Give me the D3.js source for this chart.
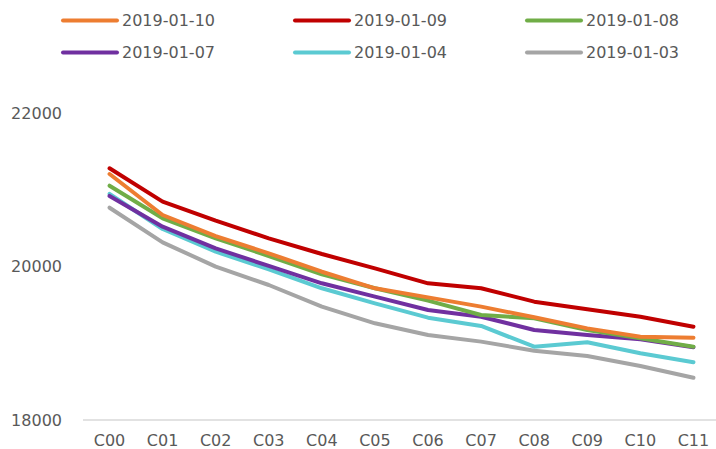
<!DOCTYPE html>
<html>
<head>
<meta charset="utf-8">
<script src="https://cdn.jsdelivr.net/npm/d3@7"></script>
<style>
  body { margin: 0; background: #fff; }
  text { font-family: 'DejaVu Sans', sans-serif; fill: #595959; }
</style>
</head>
<body>
<div id="chart"></div>
<script>
const categories = ['C00', 'C01', 'C02', 'C03', 'C04', 'C05', 'C06', 'C07', 'C08', 'C09', 'C10', 'C11'];
const seriesNames = ['2019-01-10', '2019-01-09', '2019-01-08', '2019-01-07', '2019-01-04', '2019-01-03'];
const s0110 = [21205, 20671, 20397, 20172, 19932, 19716, 19598, 19477, 19338, 19194, 19086, 19073];
const s0109 = [21280, 20845, 20597, 20367, 20163, 19976, 19781, 19716, 19542, 19442, 19346, 19216];
const s0108 = [21053, 20628, 20367, 20137, 19898, 19716, 19555, 19368, 19325, 19173, 19064, 18955];
const s0107 = [20919, 20519, 20237, 20007, 19781, 19607, 19433, 19346, 19173, 19108, 19051, 18947];
const s0104 = [20945, 20489, 20193, 19963, 19716, 19520, 19333, 19225, 18955, 19012, 18869, 18752];
const s0103 = [20766, 20315, 19998, 19759, 19477, 19260, 19108, 19021, 18903, 18834, 18704, 18551];
const yTicks = [18000, 20000, 22000];

const colors = ['#ED7D31', '#C00000', '#70AD47', '#7030A0', '#5BCAD2', '#A5A5A5'];
const series = [s0110, s0109, s0108, s0107, s0104, s0103];

const width = 716, height = 449;
const margin = { top: 113, right: -4, bottom: 29, left: 83 };

const svg = d3.select('#chart').append('svg')
  .attr('width', width)
  .attr('height', height);

const x = d3.scaleBand().domain(categories).range([margin.left, width - margin.right]);
const y = d3.scaleLinear().domain([18000, 22000]).range([height - margin.bottom, margin.top]);

// y labels (no axis line, no grid)
svg.append('g')
  .selectAll('text')
  .data(yTicks)
  .enter()
  .append('text')
  .attr('x', 62)
  .attr('y', d => y(d))
  .attr('dy', '0.35em')
  .attr('text-anchor', 'end')
  .style('font-size', '16px')
  .text(d => d);

// x axis line
svg.append('line')
  .attr('x1', margin.left)
  .attr('x2', width)
  .attr('y1', y(18000))
  .attr('y2', y(18000))
  .attr('stroke', '#D9D9D9')
  .attr('stroke-width', 1.5);

svg.append('g')
  .selectAll('text')
  .data(categories)
  .enter()
  .append('text')
  .attr('x', d => x(d) + x.bandwidth() / 2)
  .attr('y', y(18000) + 20)
  .attr('dy', '0.35em')
  .attr('text-anchor', 'middle')
  .style('font-size', '16px')
  .text(d => d);

const line = d3.line()
  .x((d, i) => x(categories[i]) + x.bandwidth() / 2)
  .y(d => y(d));

// draw in reverse so first series sits on top
svg.append('g')
  .selectAll('path')
  .data(series.map((s, i) => ({ s, i })).reverse())
  .enter()
  .append('path')
  .attr('d', d => line(d.s))
  .attr('fill', 'none')
  .attr('stroke', d => colors[d.i])
  .attr('stroke-width', 4)
  .attr('stroke-linejoin', 'round')
  .attr('stroke-linecap', 'round');

// legend
const legCols = [63, 295, 527], legRows = [20.5, 52.5];
const leg = svg.append('g')
  .selectAll('g')
  .data(seriesNames)
  .enter()
  .append('g')
  .attr('transform', (d, i) => `translate(${legCols[i % 3]},${legRows[Math.floor(i / 3)]})`);

leg.append('line')
  .attr('x1', 0).attr('x2', 54)
  .attr('stroke', (d, i) => colors[i])
  .attr('stroke-width', 4)
  .attr('stroke-linecap', 'round');

leg.append('text')
  .attr('x', 59)
  .attr('dy', '0.35em')
  .style('font-size', '16px')
  .text(d => d);
</script>
</body>
</html>
